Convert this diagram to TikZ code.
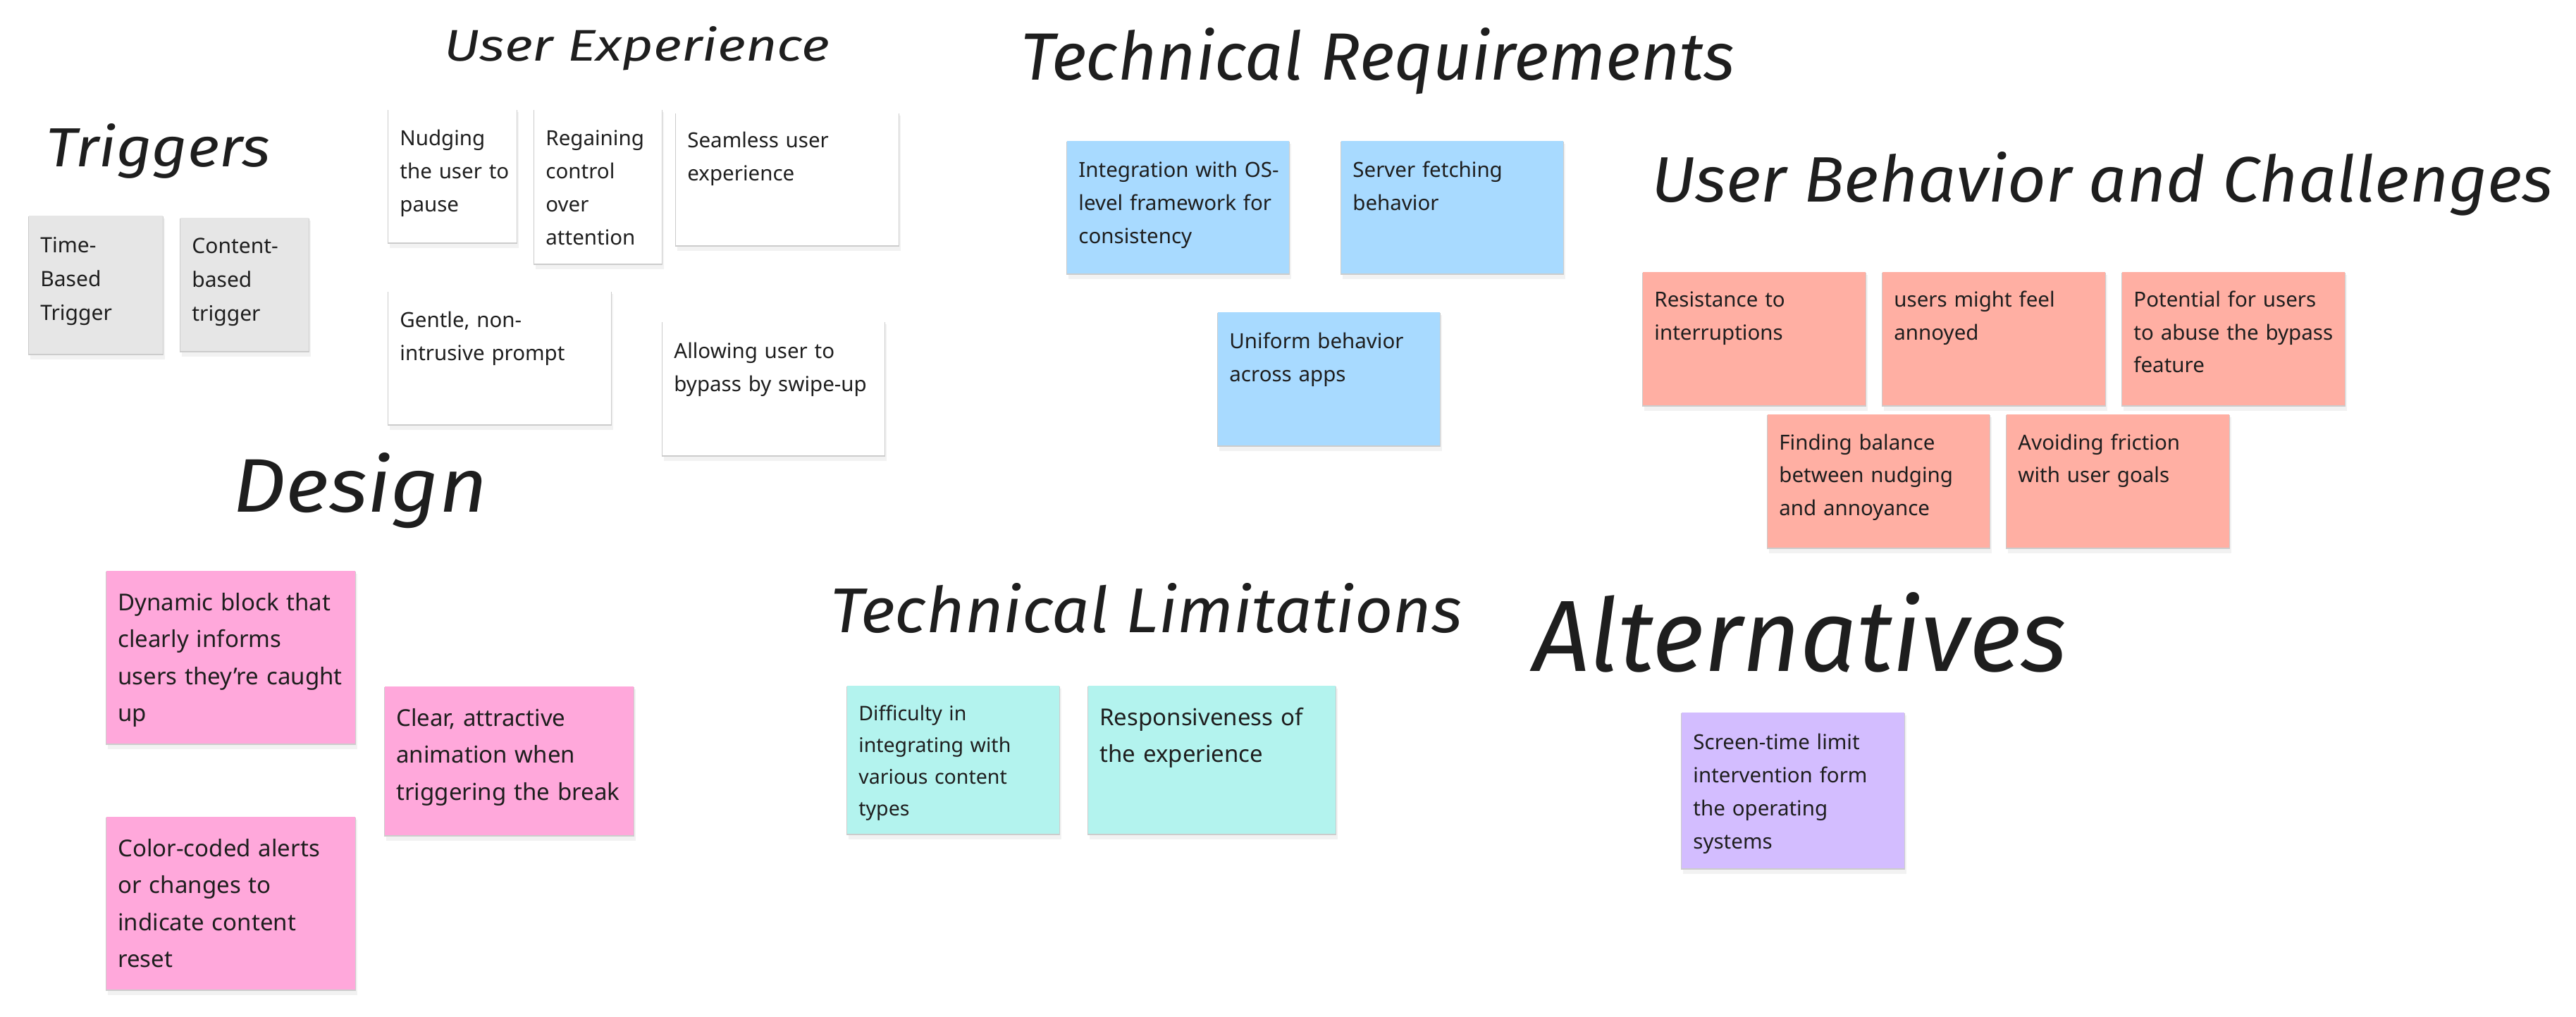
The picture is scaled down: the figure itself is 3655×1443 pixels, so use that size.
\documentclass[tikz,border=0pt]{standalone}
\usepackage{fontspec}
\usepackage{graphicx}
\usetikzlibrary{fit}
\newfontfamily\notefont{Noto Sans}
\newfontfamily\handfont{Fira Sans}
\definecolor{inkcol}{HTML}{1E1E1E}
\definecolor{notegray}{HTML}{E6E6E6}
\definecolor{notewhite}{HTML}{FFFFFF}
\definecolor{noteblue}{HTML}{A8DAFF}
\definecolor{notesalmon}{HTML}{FFAFA3}
\definecolor{notepink}{HTML}{FFA8DB}
\definecolor{noteteal}{HTML}{B3F3EE}
\definecolor{notepurple}{HTML}{D3BDFF}
\tikzset{
  notebox/.style={inner sep=0pt, draw=none},
  notetext/.style={inner sep=0pt, anchor=base west, text width=200pt, align=left, text=inkcol},
  fsTrig/.style={font=\notefont\fontsize{15}{24}\selectfont},
  fsStd/.style={font=\notefont\fontsize{14.75}{23.5}\selectfont},
  fsUBC/.style={font=\notefont\fontsize{14.75}{23.25}\selectfont},
  fsBig/.style={font=\notefont\fontsize{16.5}{26.25}\selectfont},
  fsSmall/.style={font=\notefont\fontsize{14.25}{22.5}\selectfont},
  titletext/.style={inner sep=0pt, anchor=base west, text=inkcol},
}
% #1 name, #2 left, #3 top, #4 right, #5 bottom, #6 fill, #7 text style, #8 baseline offset, #9 text
\newcommand\stickynote[9]{%
  \fill[black!5] (#2+2,#3+4) rectangle (#4+3,#5+8);
  \fill[black!20] (#2-1,#3+1) rectangle (#4+1,#5+2);
  \node[notebox, fill=#6, fit={(#2,#3)(#4,#5)}] (#1) {};
  \node[notetext, #7] (#1-text) at (#2+16,#3+#8) {#9};
}
\begin{document}
\begin{tikzpicture}[x=0.5pt,y=-0.5pt]
\useasboundingbox (0,0) rectangle (3655,1443);
\fill[white] (0,0) rectangle (3655,1443);

% Titles
\node[titletext] (tTriggers) at (65,237) {\resizebox{159pt}{30.5pt}{\handfont\itshape Triggers}};
\node[titletext] (tUX) at (630,87) {\resizebox{273.5pt}{24.5pt}{\handfont\itshape User Experience}};
\node[titletext] (tTR) at (1448,114) {\resizebox{506.5pt}{37pt}{\handfont\itshape Technical Requirements}};
\node[titletext] (tUBC) at (2343,287) {\resizebox{639.5pt}{35.5pt}{\handfont\itshape User Behavior and Challenges}};
\node[titletext] (tDesign) at (330,726) {\resizebox{180.5pt}{42pt}{\handfont\itshape Design}};
\node[titletext] (tTL) at (1178,897) {\resizebox{448pt}{35pt}{\handfont\itshape Technical Limitations}};
\node[titletext] (tAlt) at (2175,952) {\resizebox{378.5pt}{56pt}{\handfont\itshape Alternatives}};

% Triggers
\stickynote{trTime}{41}{306}{231}{502}{notegray}{fsTrig}{53}{Time-\\Based\\Trigger}
\stickynote{trContent}{256}{309}{438}{498}{notegray}{fsTrig}{51}{Content-\\based\\trigger}

% User Experience
\stickynote{uxNudge}{551}{155}{733}{344}{notewhite}{fsStd}{52}{Nudging\\the user to\\pause}
\stickynote{uxRegain}{758}{155}{939}{374}{notewhite}{fsStd}{52}{Regaining\\control\\over\\attention}
\stickynote{uxSeam}{959}{160}{1275}{348}{notewhite}{fsStd}{50}{Seamless user\\experience}
\stickynote{uxGentle}{551}{413}{867}{602}{notewhite}{fsStd}{52}{Gentle, non-\\intrusive prompt}
\stickynote{uxBypass}{940}{456}{1255}{646}{notewhite}{fsStd}{53}{Allowing user to\\bypass by swipe-up}

% Technical Requirements
\stickynote{trqOS}{1514}{200}{1829}{388}{noteblue}{fsStd}{52}{Integration with OS-\\level framework for\\consistency}
\stickynote{trqServer}{1903}{200}{2218}{388}{noteblue}{fsStd}{52}{Server fetching\\behavior}
\stickynote{trqUniform}{1728}{443}{2043}{632}{noteblue}{fsStd}{52}{Uniform behavior\\across apps}

% User Behavior and Challenges
\stickynote{ubResist}{2331}{386}{2647}{575}{notesalmon}{fsUBC}{50}{Resistance to\\interruptions}
\stickynote{ubAnnoy}{2671}{386}{2987}{575}{notesalmon}{fsUBC}{50}{users might feel\\annoyed}
\stickynote{ubAbuse}{3011}{386}{3327}{575}{notesalmon}{fsUBC}{50}{Potential for users\\to abuse the bypass\\feature}
\stickynote{ubBalance}{2508}{588}{2823}{777}{notesalmon}{fsUBC}{50}{Finding balance\\between nudging\\and annoyance}
\stickynote{ubFriction}{2847}{588}{3163}{777}{notesalmon}{fsUBC}{50}{Avoiding friction\\with user goals}

% Design
\stickynote{dsBlock}{151}{810}{504}{1055}{notepink}{fsBig}{56}{Dynamic block that\\clearly informs\\users they’re caught\\up}
\stickynote{dsAnim}{546}{974}{899}{1185}{notepink}{fsBig}{56}{Clear, attractive\\animation when\\triggering the break}
\stickynote{dsColor}{151}{1159}{504}{1404}{notepink}{fsBig}{56}{Color-coded alerts\\or changes to\\indicate content\\reset}

% Technical Limitations
\stickynote{tlDiff}{1202}{973}{1503}{1183}{noteteal}{fsSmall}{49}{Difficulty in\\integrating with\\various content\\types}
\stickynote{tlResp}{1544}{973}{1895}{1183}{noteteal}{fsBig}{56}{Responsiveness of\\the experience}

% Alternatives
\stickynote{altScreen}{2386}{1011}{2702}{1232}{notepurple}{fsStd}{52}{Screen-time limit\\intervention form\\the operating\\systems}
\end{tikzpicture}
\end{document}
